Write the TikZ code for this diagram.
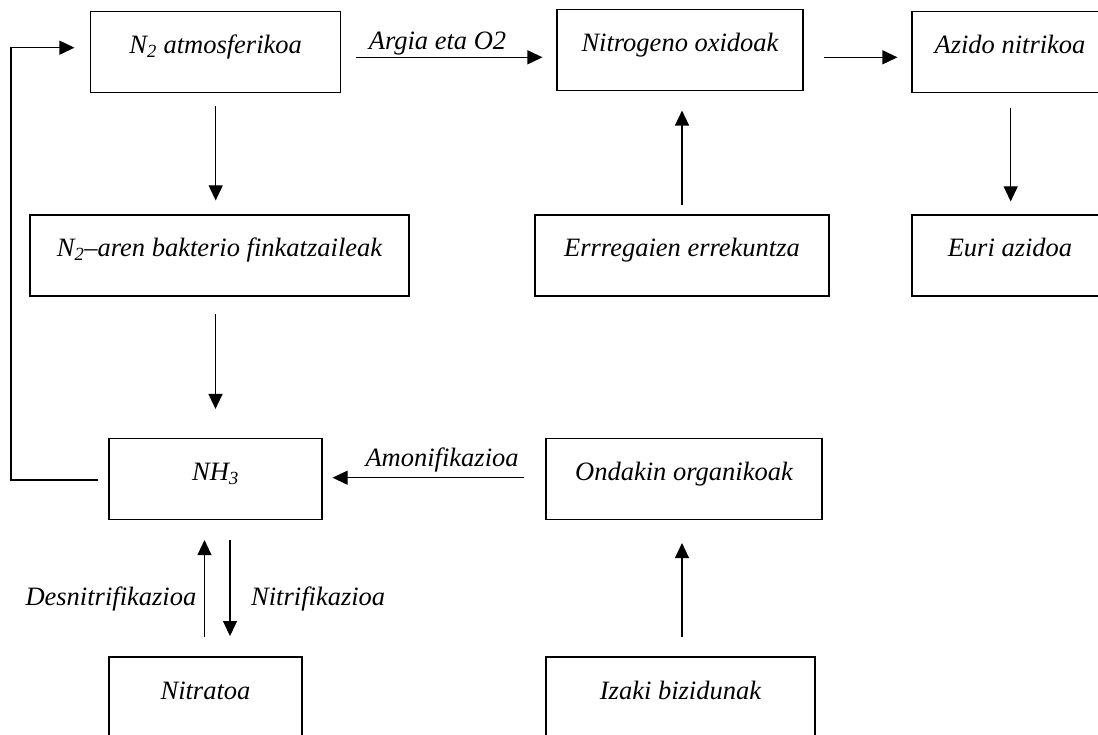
\documentclass[tikz,border=0pt]{standalone}
\usepackage{fontspec}
\setmainfont{Liberation Serif}
\usetikzlibrary{arrows.meta,calc}
\newcommand{\diagfont}{\fontsize{26.5}{30}\selectfont\itshape}
\begin{document}
\begin{tikzpicture}[x=1pt,y=-1pt,
  box/.style={draw, line width=1.1pt, inner sep=0pt, minimum height=81pt,
    text height=42pt, text depth=39pt, font=\diagfont},
  arr/.style={line width=1.1pt, -{Triangle[length=15pt,width=14pt]}},
  lbl/.style={inner sep=0pt, font=\diagfont}]
\useasboundingbox (0,0) rectangle (1098,735);
\clip (0,0) rectangle (1098,735);

\node[box, minimum width=250pt] (atm) at (215.7,52) {N\textsubscript{2} atmosferikoa};
\node[box, minimum width=246pt] (nitro) at (680,49.8) {Nitrogeno oxidoak};
\node[box, minimum width=196pt] (azido) at (1010,52) {Azido nitrikoa};
\node[box, minimum width=379pt] (bakt) at (219.5,255.5) {N\textsubscript{2}--aren bakterio finkatzaileak};
\node[box, minimum width=294pt] (err) at (682,255.5) {Errregaien errekuntza};
\node[box, minimum width=196pt] (euri) at (1010,255.5) {Euri azidoa};
\node[box, minimum width=213pt] (nh3) at (215.5,479) {NH\textsubscript{3}};
\node[box, minimum width=276pt] (ond) at (684,479) {Ondakin organikoak};
\node[box, minimum width=193pt] (nitr) at (205.5,697.5) {Nitratoa};
\node[box, minimum width=269pt] (iz) at (680.5,697.5) {Izaki bizidunak};

% top row
\draw[arr] ($(atm.east)+(14.3,5.3)$) -- ($(nitro.west)+(-14,7.5)$);
\node[lbl, anchor=base] (lArg) at ($(atm.east)+(96.3,-2)$) {Argia eta O2};
\draw[arr] ($(nitro.east)+(20,7.5)$) -- ($(azido.west)+(-14,5.3)$);

% verticals
\draw[arr] ($(atm.south)+(0,12.7)$) -- ($(atm.south |- bakt.north)+(0,-14)$);
\draw[arr] ($(nh3.north |- bakt.south)+(0,17)$) -- ($(nh3.north)+(0,-29)$);
\draw[arr] ($(err.north)+(0,-9)$) -- ($(err.north |- nitro.south)+(0,19.7)$);
\draw[arr] ($(azido.south)+(0.7,14.7)$) -- ($(euri.north)+(0.7,-13)$);

% ammonification
\draw[arr] ($(ond.west)+(-21,-1.3)$) -- ($(nh3.east)+(10,-1.3)$);
\node[lbl, anchor=base] (lAmo) at ($(nh3.east)+(119.5,-13)$) {Amonifikazioa};

% feedback loop
\coordinate (fb) at (11,480);
\draw[arr] ($(nh3.west)+(-10,1)$) -- (fb) |- ($(atm.west)+(-15.7,-4.3)$);

% nitrification / denitrification
\draw[arr] ($(nh3.south)+(-11,117)$) -- ($(nh3.south)+(-11,20)$);
\draw[arr] ($(nh3.south)+(14.5,20)$) -- ($(nh3.south)+(14.5,116)$);
\node[lbl, anchor=base east] (lDes) at ($(nh3.south)+(-19,85)$) {Desnitrifikazioa};
\node[lbl, anchor=base west] (lNit) at ($(nh3.south)+(35.5,85)$) {Nitrifikazioa};

% living beings to organic waste
\draw[arr] ($(iz.north)+(1.5,-19)$) -- ($(ond.south)+(-2,23)$);
\end{tikzpicture}
\end{document}
